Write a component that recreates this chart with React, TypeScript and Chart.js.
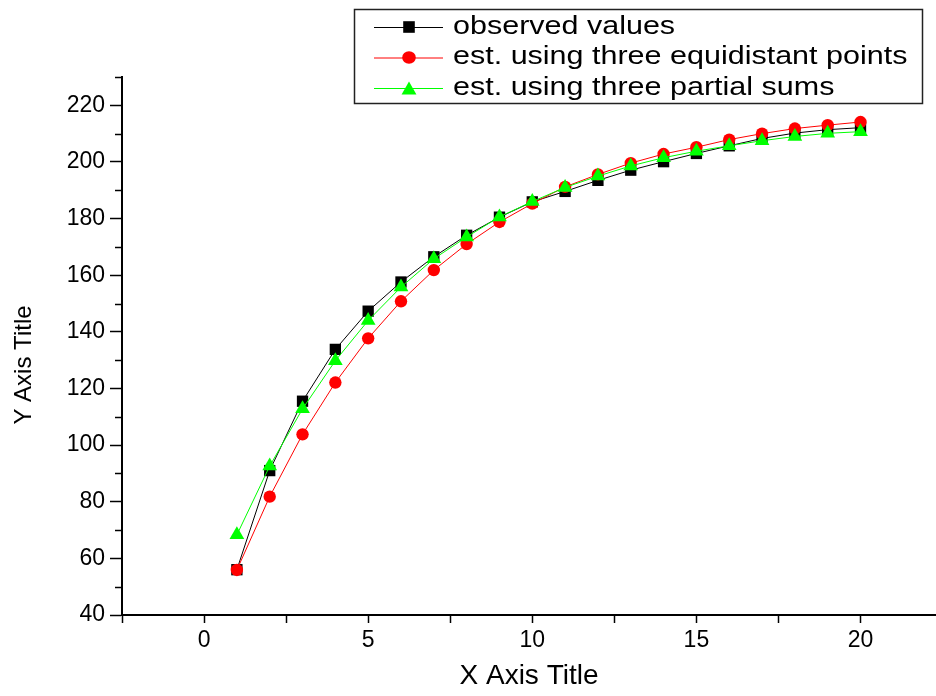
import { useEffect, useRef } from 'react';
import { Chart, registerables } from 'chart.js';

Chart.register(...registerables);

const xValues = [1, 2, 3, 4, 5, 6, 7, 8, 9, 10, 11, 12, 13, 14, 15, 16, 17, 18, 19, 20];
const observedValues = [56, 91, 115.5, 133.8, 147.3, 157.6, 166.5, 174.1, 180.5, 185.9, 189.6, 193.5, 197.1, 200.1, 203.0, 205.7, 208.3, 210.2, 211.4, 212.1];
const equidistantEst = [55.9, 81.8, 103.8, 122.1, 137.7, 150.8, 161.8, 171.0, 178.8, 185.3, 191.2, 195.6, 199.6, 202.8, 205.2, 207.9, 210.0, 211.8, 213.0, 214.1];
const partialSumsEst = [68.3, 92.6, 112.8, 129.8, 144.0, 155.8, 165.8, 173.5, 180.6, 186.0, 191.0, 195.0, 198.6, 201.5, 203.8, 205.7, 207.5, 209.0, 210.1, 210.7];

const xMin = -2.5;
const xMax = 22.3;
const xTickValues = [-2.5, 0, 2.5, 5, 7.5, 10, 12.5, 15, 17.5, 20];
const xLabelValues = [0, 5, 10, 15, 20];
const yTickValues = [40, 60, 80, 100, 120, 140, 160, 180, 200, 220];
const yMinorTickValues = [50, 70, 90, 110, 130, 150, 170, 190, 210, 230];

const seriesLabels = ['observed values', 'est. using three equidistant points', 'est. using three partial sums'];
const seriesColors = ['#000000', '#ff0000', '#00ff00'];
const seriesStyles = ['rect', 'circle', 'triangle'];
const xTitle = 'X Axis Title';
const yTitle = 'Y Axis Title';

const FONT = "'Liberation Sans', Arial, sans-serif";

function drawMarker(ctx: CanvasRenderingContext2D, style: string, x: number, y: number, color: string) {
  ctx.fillStyle = color;
  ctx.beginPath();
  if (style === 'rect') {
    ctx.rect(x - 5.8, y - 5.8, 11.6, 11.6);
  } else if (style === 'circle') {
    ctx.ellipse(x, y, 6.8, 6.2, 0, 0, Math.PI * 2);
  } else {
    const r = 8.6;
    ctx.moveTo(x, y - r * 0.75);
    ctx.lineTo(x + r * 0.866, y + r * 0.75);
    ctx.lineTo(x - r * 0.866, y + r * 0.75);
    ctx.closePath();
  }
  ctx.fill();
}

const decorPlugin = {
  id: 'decor',
  afterDraw(chart: any) {
    const ctx: CanvasRenderingContext2D = chart.ctx;
    const area = chart.chartArea;
    const yScale = chart.scales.y;
    ctx.save();
    // minor y ticks
    ctx.strokeStyle = '#000';
    ctx.lineWidth = 1.5;
    for (const v of yMinorTickValues) {
      const py = Math.round(yScale.getPixelForValue(v)) + 0.5;
      ctx.beginPath();
      ctx.moveTo(area.left - 7, py);
      ctx.lineTo(area.left, py);
      ctx.stroke();
    }
    // y title
    ctx.save();
    ctx.translate(24, 365);
    ctx.rotate(-Math.PI / 2);
    ctx.font = `24px ${FONT}`;
    ctx.fillStyle = '#000';
    ctx.textAlign = 'center';
    ctx.textBaseline = 'middle';
    ctx.fillText(yTitle, 0, 0);
    ctx.restore();
    // legend box
    const bx = 354.5, by = 9.5, bw = 568, bh = 94;
    ctx.fillStyle = '#fff';
    ctx.fillRect(bx, by, bw, bh);
    ctx.strokeStyle = '#222';
    ctx.lineWidth = 1.5;
    ctx.strokeRect(bx, by, bw, bh);
    const rows = [27, 57.5, 88];
    seriesLabels.forEach((label, i) => {
      const ry = rows[i];
      ctx.strokeStyle = seriesColors[i];
      ctx.lineWidth = 1;
      ctx.beginPath();
      ctx.moveTo(374, ry + 0.5);
      ctx.lineTo(443, ry + 0.5);
      ctx.stroke();
      drawMarker(ctx, seriesStyles[i], 409, ry, seriesColors[i]);
      ctx.save();
      ctx.translate(453, ry);
      ctx.scale(1.22, 1);
      ctx.font = `25px ${FONT}`;
      ctx.fillStyle = '#000';
      ctx.textAlign = 'left';
      ctx.textBaseline = 'middle';
      ctx.fillText(label, 0, 0);
      ctx.restore();
    });
    ctx.restore();
  },
};

export default function App() {
  const canvasRef = useRef<HTMLCanvasElement | null>(null);

  useEffect(() => {
    if (!canvasRef.current) return;
    const mk = (vals: number[]) => xValues.map((x, i) => ({ x, y: vals[i] }));
    const seriesData = [observedValues, equidistantEst, partialSumsEst];
    const radii = [8, 6.2, 8.5];
    const orders = [3, 2, 1];
    const chart = new Chart(canvasRef.current, {
      type: 'line',
      data: {
        datasets: seriesData.map((vals, i) => ({
          label: seriesLabels[i],
          data: mk(vals),
          borderColor: seriesColors[i],
          backgroundColor: seriesColors[i],
          borderWidth: 1,
          pointStyle: seriesStyles[i] as any,
          pointRadius: radii[i],
          pointHoverRadius: radii[i],
          pointBackgroundColor: seriesColors[i],
          pointBorderWidth: 0,
          fill: false,
          tension: 0,
          order: orders[i],
        })),
      },
      options: {
        animation: false,
        responsive: false,
        events: [],
        layout: { autoPadding: false, padding: { top: 77, right: 0, left: 0, bottom: 0 } },
        plugins: { legend: { display: false }, tooltip: { enabled: false } },
        scales: {
          x: {
            type: 'linear',
            min: xMin,
            max: xMax,
            afterBuildTicks: (s: any) => {
              s.ticks = xTickValues.map((v) => ({ value: v }));
            },
            afterFit: (s: any) => {
              s.height = 81;
            },
            ticks: {
              autoSkip: false,
              maxRotation: 0,
              padding: 4,
              color: '#000',
              font: { family: FONT, size: 23 },
              callback: (v: any) => (xLabelValues.includes(Number(v)) ? String(v) : ''),
            },
            grid: { display: true, drawOnChartArea: false, drawTicks: true, tickLength: 8, tickWidth: 1.5, tickColor: '#000' },
            border: { display: true, color: '#000', width: 2 },
            title: { display: true, text: xTitle, color: '#000', font: { family: FONT, size: 28 }, padding: { top: 0, bottom: 3 } },
          },
          y: {
            type: 'linear',
            min: 40,
            max: 230,
            afterBuildTicks: (s: any) => {
              s.ticks = yTickValues.map((v) => ({ value: v }));
            },
            afterFit: (s: any) => {
              s.width = 122;
            },
            ticks: {
              autoSkip: false,
              padding: 5,
              color: '#000',
              font: { family: FONT, size: 23 },
              callback: (v: any) => String(v),
            },
            grid: { display: true, drawOnChartArea: false, drawTicks: true, tickLength: 12, tickWidth: 1.5, tickColor: '#000' },
            border: { display: true, color: '#000', width: 2 },
            title: { display: false },
          },
        },
      },
      plugins: [decorPlugin],
    });
    return () => chart.destroy();
  }, []);

  return (
    <div style={{ position: 'absolute', left: 0, top: 0, width: 936, height: 696, background: '#fff' }}>
      <canvas ref={canvasRef} width={936} height={696} style={{ display: 'block' }} />
    </div>
  );
}
